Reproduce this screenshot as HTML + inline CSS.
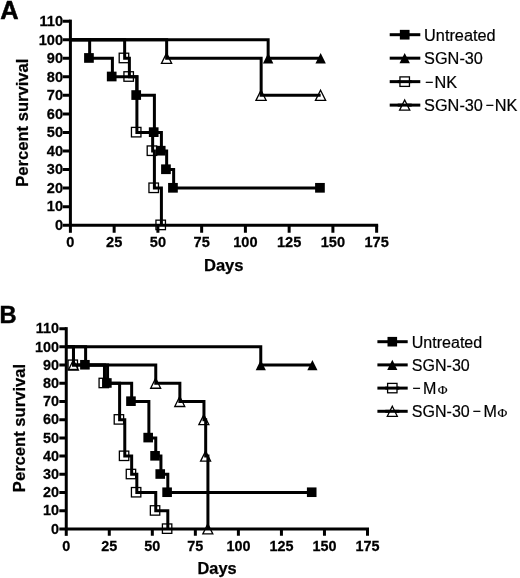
<!DOCTYPE html>
<html><head><meta charset="utf-8"><title>Survival curves</title>
<style>
html,body{margin:0;padding:0;background:#fff}
svg{display:block}
text{font-family:"Liberation Sans",sans-serif;fill:#000}
.tk text,.ti,.pl{font-weight:bold;stroke:#000;stroke-width:0.25px}
.pl{stroke-width:0.5px}
.lg,.ph{stroke:#000;stroke-width:0.2px}
.ph{font-family:"Liberation Serif",serif}
</style></head><body>
<svg width="520" height="578" viewBox="0 0 520 578">
<rect width="520" height="578" fill="#fff"/>
<g id="panelA">
<g stroke="#000" stroke-width="3" fill="none">
<path d="M70.4 19.65V232.8"/>
<path d="M62.8 225.2H378.15"/>
<path d="M62.8 206.65H70.4M62.8 188.1H70.4M62.8 169.55H70.4M62.8 151H70.4M62.8 132.45H70.4M62.8 113.9H70.4M62.8 95.35H70.4M62.8 76.8H70.4M62.8 58.25H70.4M62.8 39.7H70.4M62.8 21.15H70.4M114.15 225.2V232.8M157.9 225.2V232.8M201.65 225.2V232.8M245.4 225.2V232.8M289.15 225.2V232.8M332.9 225.2V232.8M376.65 225.2V232.8"/>
</g>
<g class="tk" font-size="15.2">
<g text-anchor="end">
<text transform="translate(63 230) scale(.96 1)">0</text>
<text transform="translate(63 211.45) scale(.96 1)">10</text>
<text transform="translate(63 192.9) scale(.96 1)">20</text>
<text transform="translate(63 174.35) scale(.96 1)">30</text>
<text transform="translate(63 155.8) scale(.96 1)">40</text>
<text transform="translate(63 137.25) scale(.96 1)">50</text>
<text transform="translate(63 118.7) scale(.96 1)">60</text>
<text transform="translate(63 100.15) scale(.96 1)">70</text>
<text transform="translate(63 81.6) scale(.96 1)">80</text>
<text transform="translate(63 63.05) scale(.96 1)">90</text>
<text transform="translate(63 44.5) scale(.96 1)">100</text>
<text transform="translate(63 25.95) scale(.96 1)">110</text>
</g><g text-anchor="middle">
<text transform="translate(70.4 247.2) scale(.96 1)">0</text>
<text transform="translate(114.15 247.2) scale(.96 1)">25</text>
<text transform="translate(157.9 247.2) scale(.96 1)">50</text>
<text transform="translate(201.65 247.2) scale(.96 1)">75</text>
<text transform="translate(245.4 247.2) scale(.96 1)">100</text>
<text transform="translate(289.15 247.2) scale(.96 1)">125</text>
<text transform="translate(332.9 247.2) scale(.96 1)">150</text>
<text transform="translate(376.65 247.2) scale(.96 1)">175</text>
</g></g>
<text class="ti" font-size="16.6" text-anchor="middle" x="223.75" y="270.6">Days</text>
<text class="ti" font-size="16.6" text-anchor="middle" transform="translate(28.3 122.7) rotate(-90)">Percent survival</text>
<text class="pl" font-size="25.4" transform="translate(0.2 18.8) scale(1 1)">A</text>
<rect x="84.1" y="53.1" width="9.7" height="9.7" fill="#000"/>
<rect x="106.85" y="71.65" width="9.7" height="9.7" fill="#000"/>
<rect x="131.35" y="90.2" width="9.7" height="9.7" fill="#000"/>
<rect x="148.85" y="127.3" width="9.7" height="9.7" fill="#000"/>
<rect x="155.85" y="145.85" width="9.7" height="9.7" fill="#000"/>
<rect x="161.1" y="164.4" width="9.7" height="9.7" fill="#000"/>
<rect x="168.1" y="182.95" width="9.7" height="9.7" fill="#000"/>
<rect x="315.1" y="182.95" width="9.7" height="9.7" fill="#000"/>
<path d="M70.4 39.7L89.65 39.7L89.65 58.25L112.4 58.25L112.4 76.8L136.9 76.8L136.9 95.35L154.4 95.35L154.4 132.45L161.4 132.45L161.4 151L166.65 151L166.65 169.55L173.65 169.55L173.65 188.1L320.65 188.1" fill="none" stroke="#000" stroke-width="3" stroke-linejoin="miter"/>
<path d="M268.15 53.05L273.35 63.45H262.95Z" fill="#000"/>
<path d="M320.65 53.05L325.85 63.45H315.45Z" fill="#000"/>
<path d="M70.4 39.7L268.15 39.7L268.15 58.25L320.65 58.25" fill="none" stroke="#000" stroke-width="3" stroke-linejoin="miter"/>
<rect x="119.2" y="53.2" width="9.5" height="9.5" fill="none" stroke="#000" stroke-width="1.3"/>
<rect x="123.93" y="71.75" width="9.5" height="9.5" fill="none" stroke="#000" stroke-width="1.3"/>
<rect x="131.45" y="127.4" width="9.5" height="9.5" fill="none" stroke="#000" stroke-width="1.3"/>
<rect x="147.2" y="145.95" width="9.5" height="9.5" fill="none" stroke="#000" stroke-width="1.3"/>
<rect x="148.95" y="183.05" width="9.5" height="9.5" fill="none" stroke="#000" stroke-width="1.3"/>
<rect x="155.95" y="220.15" width="9.5" height="9.5" fill="none" stroke="#000" stroke-width="1.3"/>
<path d="M70.4 39.7L124.65 39.7L124.65 58.25L129.38 58.25L129.38 76.8L136.9 76.8L136.9 132.45L152.65 132.45L152.65 151L154.4 151L154.4 188.1L161.4 188.1L161.4 225.2" fill="none" stroke="#000" stroke-width="3" stroke-linejoin="miter"/>
<path d="M166.55 53.15L171.65 63.35H161.45Z" fill="none" stroke="#000" stroke-width="1.3"/>
<path d="M261.05 90.25L266.15 100.45H255.95Z" fill="none" stroke="#000" stroke-width="1.3"/>
<path d="M320.55 90.25L325.65 100.45H315.45Z" fill="none" stroke="#000" stroke-width="1.3"/>
<path d="M70.4 39.7L166.65 39.7L166.65 58.25L261.15 58.25L261.15 95.35L320.65 95.35" fill="none" stroke="#000" stroke-width="3" stroke-linejoin="miter"/>
<path d="M389.7 34.7H420.3" stroke="#000" stroke-width="3"/>
<rect x="399.85" y="29.85" width="9.7" height="9.7" fill="#000"/>
<text class="lg"><tspan class="lg" font-size="16.3" x="424.1" y="40.6">Untreated</tspan></text>
<path d="M389.7 58.17H420.3" stroke="#000" stroke-width="3"/>
<path d="M404.7 52.97L409.9 63.37H399.5Z" fill="#000"/>
<text class="lg"><tspan class="lg" font-size="16.3" x="424.1" y="64.07">SGN-30</tspan></text>
<path d="M389.7 81.64H420.3" stroke="#000" stroke-width="3"/>
<rect x="399.95" y="76.89" width="9.5" height="9.5" fill="#fff" stroke="#000" stroke-width="1.3"/>
<path d="M397.7 81.64H411.7" stroke="#000" stroke-width="3"/>
<text class="lg"><tspan class="lg" font-size="14" x="424.9" y="86.64">−</tspan><tspan class="lg" font-size="16.3" x="434.6" y="87.54">NK</tspan></text>
<path d="M389.7 105.11H420.3" stroke="#000" stroke-width="3"/>
<path d="M404.7 100.01L409.8 110.21H399.6Z" fill="#fff" stroke="#000" stroke-width="1.3"/>
<path d="M397.7 105.11H411.7" stroke="#000" stroke-width="3"/>
<text class="lg"><tspan class="lg" font-size="16.3" x="424.1" y="111.01">SGN-30</tspan><tspan class="lg" font-size="14" x="485.5" y="110.11">−</tspan><tspan class="lg" font-size="16.3" x="494.8" y="111.01">NK</tspan></text>
</g>
<g id="panelB">
<g stroke="#000" stroke-width="3" fill="none">
<path d="M66.25 327.14V535.85"/>
<path d="M59.35 528.95H369"/>
<path d="M59.35 510.74H66.25M59.35 492.53H66.25M59.35 474.32H66.25M59.35 456.11H66.25M59.35 437.9H66.25M59.35 419.69H66.25M59.35 401.48H66.25M59.35 383.27H66.25M59.35 365.06H66.25M59.35 346.85H66.25M59.35 328.64H66.25M109.28 528.95V535.85M152.32 528.95V535.85M195.35 528.95V535.85M238.39 528.95V535.85M281.43 528.95V535.85M324.46 528.95V535.85M367.5 528.95V535.85"/>
</g>
<g class="tk" font-size="15">
<g text-anchor="end">
<text transform="translate(58.95 533.65) scale(.96 1)">0</text>
<text transform="translate(58.95 515.44) scale(.96 1)">10</text>
<text transform="translate(58.95 497.23) scale(.96 1)">20</text>
<text transform="translate(58.95 479.02) scale(.96 1)">30</text>
<text transform="translate(58.95 460.81) scale(.96 1)">40</text>
<text transform="translate(58.95 442.6) scale(.96 1)">50</text>
<text transform="translate(58.95 424.39) scale(.96 1)">60</text>
<text transform="translate(58.95 406.18) scale(.96 1)">70</text>
<text transform="translate(58.95 387.97) scale(.96 1)">80</text>
<text transform="translate(58.95 369.76) scale(.96 1)">90</text>
<text transform="translate(58.95 351.55) scale(.96 1)">100</text>
<text transform="translate(58.95 333.34) scale(.96 1)">110</text>
</g><g text-anchor="middle">
<text transform="translate(66.25 550.7) scale(.96 1)">0</text>
<text transform="translate(109.28 550.7) scale(.96 1)">25</text>
<text transform="translate(152.32 550.7) scale(.96 1)">50</text>
<text transform="translate(195.35 550.7) scale(.96 1)">75</text>
<text transform="translate(238.39 550.7) scale(.96 1)">100</text>
<text transform="translate(281.43 550.7) scale(.96 1)">125</text>
<text transform="translate(324.46 550.7) scale(.96 1)">150</text>
<text transform="translate(367.5 550.7) scale(.96 1)">175</text>
</g></g>
<text class="ti" font-size="16.35" text-anchor="middle" x="217.07" y="574">Days</text>
<text class="ti" font-size="16.6" text-anchor="middle" transform="translate(25.1 428.05) rotate(-90)">Percent survival</text>
<text class="pl" font-size="24.6" transform="translate(-0.4 322.8) scale(0.96 1)">B</text>
<rect x="80.12" y="359.96" width="9.6" height="9.6" fill="#000"/>
<rect x="102.06" y="378.17" width="9.6" height="9.6" fill="#000"/>
<rect x="126.16" y="396.38" width="9.6" height="9.6" fill="#000"/>
<rect x="143.38" y="432.8" width="9.6" height="9.6" fill="#000"/>
<rect x="150.26" y="451.01" width="9.6" height="9.6" fill="#000"/>
<rect x="155.43" y="469.22" width="9.6" height="9.6" fill="#000"/>
<rect x="162.31" y="487.43" width="9.6" height="9.6" fill="#000"/>
<rect x="306.91" y="487.43" width="9.6" height="9.6" fill="#000"/>
<path d="M66.25 346.85L85.62 346.85L85.62 365.06L107.56 365.06L107.56 383.27L131.66 383.27L131.66 401.48L148.88 401.48L148.88 437.9L155.76 437.9L155.76 456.11L160.93 456.11L160.93 474.32L167.81 474.32L167.81 492.53L312.41 492.53" fill="none" stroke="#000" stroke-width="3" stroke-linejoin="miter"/>
<path d="M260.77 359.96L265.87 370.16H255.67Z" fill="#000"/>
<path d="M312.41 359.96L317.51 370.16H307.31Z" fill="#000"/>
<path d="M66.25 346.85L260.77 346.85L260.77 365.06L312.41 365.06" fill="none" stroke="#000" stroke-width="3" stroke-linejoin="miter"/>
<rect x="68.08" y="360.06" width="9.4" height="9.4" fill="none" stroke="#000" stroke-width="1.3"/>
<rect x="99.07" y="378.27" width="9.4" height="9.4" fill="none" stroke="#000" stroke-width="1.3"/>
<rect x="114.21" y="414.69" width="9.4" height="9.4" fill="none" stroke="#000" stroke-width="1.3"/>
<rect x="119.38" y="451.11" width="9.4" height="9.4" fill="none" stroke="#000" stroke-width="1.3"/>
<rect x="126.26" y="469.32" width="9.4" height="9.4" fill="none" stroke="#000" stroke-width="1.3"/>
<rect x="131.43" y="487.53" width="9.4" height="9.4" fill="none" stroke="#000" stroke-width="1.3"/>
<rect x="150.36" y="505.74" width="9.4" height="9.4" fill="none" stroke="#000" stroke-width="1.3"/>
<rect x="162.41" y="523.95" width="9.4" height="9.4" fill="none" stroke="#000" stroke-width="1.3"/>
<path d="M66.25 346.85L73.48 346.85L73.48 365.06L104.47 365.06L104.47 383.27L119.61 383.27L119.61 419.69L124.78 419.69L124.78 456.11L131.66 456.11L131.66 474.32L136.83 474.32L136.83 492.53L155.76 492.53L155.76 510.74L167.81 510.74L167.81 528.95" fill="none" stroke="#000" stroke-width="3" stroke-linejoin="miter"/>
<path d="M73.38 360.06L78.38 370.06H68.38Z" fill="none" stroke="#000" stroke-width="1.3"/>
<path d="M155.66 378.27L160.66 388.27H150.66Z" fill="none" stroke="#000" stroke-width="1.3"/>
<path d="M179.76 396.48L184.76 406.48H174.76Z" fill="none" stroke="#000" stroke-width="1.3"/>
<path d="M203.86 414.69L208.86 424.69H198.86Z" fill="none" stroke="#000" stroke-width="1.3"/>
<path d="M205.58 451.11L210.58 461.11H200.58Z" fill="none" stroke="#000" stroke-width="1.3"/>
<path d="M207.82 523.95L212.82 533.95H202.82Z" fill="none" stroke="#000" stroke-width="1.3"/>
<path d="M66.25 346.85L73.48 346.85L73.48 365.06L155.76 365.06L155.76 383.27L179.86 383.27L179.86 401.48L203.96 401.48L203.96 419.69L205.68 419.69L205.68 456.11L207.92 456.11L207.92 528.95" fill="none" stroke="#000" stroke-width="3" stroke-linejoin="miter"/>
<path d="M377.4 341.7H407.7" stroke="#000" stroke-width="3"/>
<rect x="387.5" y="336.9" width="9.6" height="9.6" fill="#000"/>
<text class="lg"><tspan class="lg" font-size="16.05" x="411.8" y="347.7">Untreated</tspan></text>
<path d="M377.4 364.9H407.7" stroke="#000" stroke-width="3"/>
<path d="M392.3 359.8L397.4 370H387.2Z" fill="#000"/>
<text class="lg"><tspan class="lg" font-size="16.05" x="411.8" y="370.9">SGN-30</tspan></text>
<path d="M377.4 388.1H407.7" stroke="#000" stroke-width="3"/>
<rect x="387.6" y="383.4" width="9.4" height="9.4" fill="#fff" stroke="#000" stroke-width="1.3"/>
<path d="M385.3 388.1H399.3" stroke="#000" stroke-width="3"/>
<text class="lg"><tspan class="lg" font-size="14" x="412.2" y="393.2">−</tspan><tspan class="lg" font-size="16.05" x="423.1" y="394.1">M</tspan><tspan class="ph" font-size="13.4" x="437.7" y="394.1">Φ</tspan></text>
<path d="M377.4 411.3H407.7" stroke="#000" stroke-width="3"/>
<path d="M392.3 406.3L397.3 416.3H387.3Z" fill="#fff" stroke="#000" stroke-width="1.3"/>
<path d="M385.3 411.3H399.3" stroke="#000" stroke-width="3"/>
<text class="lg"><tspan class="lg" font-size="16.05" x="411.8" y="417.3">SGN-30</tspan><tspan class="lg" font-size="14" x="472.5" y="416.4">−</tspan><tspan class="lg" font-size="16.05" x="483.4" y="417.3">M</tspan><tspan class="ph" font-size="13.4" x="497.5" y="417.3">Φ</tspan></text>
</g>
</svg>
</body></html>
